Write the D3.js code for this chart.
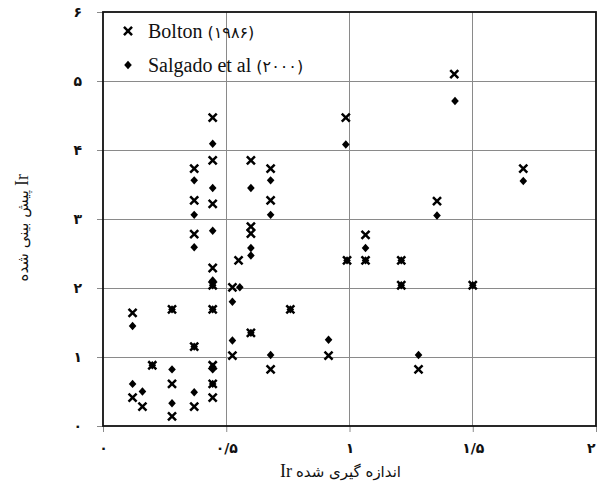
<!DOCTYPE html>
<html>
<head>
<meta charset="utf-8">
<script src="https://cdn.jsdelivr.net/npm/d3@7"></script>
<style>
  html, body { margin: 0; padding: 0; background: #fff; }
  svg { display: block; }
</style>
</head>
<body>
<script>
// Measured vs predicted Ir: Bolton (1986) and Salgado et al (2000)
const xTicks = [0, 0.5, 1, 1.5, 2];
const xTickLabels = ["۰", "۰/۵", "۱", "۱/۵", "۲"];
const yTicks = [0, 1, 2, 3, 4, 5, 6];
const yTickLabels = ["۰", "۱", "۲", "۳", "۴", "۵", "۶"];

const boltonX = [0.12, 0.12, 0.16, 0.20, 0.28, 0.28, 0.28,
  0.37, 0.37, 0.37, 0.37, 0.37,
  0.445, 0.445, 0.445, 0.445, 0.445, 0.445, 0.445, 0.445, 0.445,
  0.525, 0.525, 0.55,
  0.60, 0.60, 0.60, 0.60,
  0.68, 0.68, 0.68,
  0.76, 0.915,
  0.985, 0.99, 1.065, 1.065,
  1.21, 1.21, 1.28, 1.355, 1.425, 1.50, 1.705];
const boltonY = [1.64, 0.41, 0.28, 0.88, 1.69, 0.61, 0.14,
  3.73, 3.27, 2.78, 1.15, 0.28,
  4.47, 3.85, 3.22, 2.29, 2.04, 1.69, 0.88, 0.61, 0.41,
  2.01, 1.02, 2.40,
  3.85, 2.89, 2.79, 1.35,
  3.73, 3.27, 0.82,
  1.69, 1.02,
  4.47, 2.40, 2.77, 2.40,
  2.40, 2.04, 0.82, 3.26, 5.10, 2.04, 3.73];

const salgadoX = [0.12, 0.12, 0.16, 0.20, 0.28, 0.28, 0.28,
  0.37, 0.37, 0.37, 0.37, 0.37,
  0.445, 0.445, 0.445, 0.445, 0.445, 0.445, 0.445, 0.445, 0.445,
  0.525, 0.525, 0.555,
  0.60, 0.60, 0.60, 0.60,
  0.68, 0.68, 0.68,
  0.76, 0.915,
  0.985, 0.99, 1.065, 1.065,
  1.21, 1.21, 1.28, 1.355, 1.428, 1.50, 1.705];
const salgadoY = [1.45, 0.61, 0.50, 0.88, 1.69, 0.82, 0.33,
  3.56, 3.06, 2.59, 1.15, 0.49,
  4.09, 3.45, 2.83, 2.11, 2.04, 1.69, 0.86, 0.82, 0.61,
  1.80, 1.24, 2.01,
  3.45, 2.58, 2.47, 1.35,
  3.56, 3.06, 1.03,
  1.69, 1.25,
  4.08, 2.40, 2.58, 2.40,
  2.40, 2.04, 1.03, 3.05, 4.71, 2.04, 3.55];

const seriesNames = ["Bolton", "Salgado et al"];
const seriesYears = ["(۱۹۸۶)", "(۲۰۰۰)"];
const varName = "Ir";
const xTitleFa = "اندازه گیری شده";
const yTitleFa = "پیش بینی شده";

const W = 597, H = 490;
const svg = d3.select("body").append("svg").attr("width", W).attr("height", H);

const x = d3.scaleLinear().domain([0, 2]).range([103, 596]);
const y = d3.scaleLinear().domain([0, 6]).range([426, 12]);

const gridColor = "#8a8a8a";
const persianFont = "'DejaVu Sans', sans-serif";
const latinFont = "'Liberation Serif', 'Times New Roman', serif";

// grid
svg.append("g").selectAll("line").data(xTicks.slice(1, -1)).join("line")
  .attr("x1", d => x(d)).attr("x2", d => x(d))
  .attr("y1", y(6)).attr("y2", y(0))
  .attr("stroke", gridColor).attr("stroke-width", 1).attr("shape-rendering", "crispEdges");
svg.append("g").selectAll("line").data(yTicks.slice(1, -1)).join("line")
  .attr("x1", x(0)).attr("x2", x(2))
  .attr("y1", d => y(d)).attr("y2", d => y(d))
  .attr("stroke", gridColor).attr("stroke-width", 1).attr("shape-rendering", "crispEdges");

// axes
const yAxis = d3.axisLeft(y).tickValues(yTicks)
  .tickFormat((d, i) => yTickLabels[i]).tickSize(6).tickSizeOuter(0).tickPadding(15);
const gy = svg.append("g").attr("transform", `translate(${x(0)},0)`).call(yAxis);
gy.select(".domain").remove();
gy.selectAll(".tick line").attr("stroke", gridColor);
gy.selectAll(".tick text").attr("font-family", persianFont).attr("font-size", 14)
  .attr("font-weight", "bold").attr("fill", "#111");

const xAxis = d3.axisBottom(x).tickValues(xTicks)
  .tickFormat((d, i) => xTickLabels[i]).tickSize(6).tickSizeOuter(0).tickPadding(11);
const gx = svg.append("g").attr("transform", `translate(0,${y(0)})`).call(xAxis);
gx.select(".domain").remove();
gx.selectAll(".tick line").attr("stroke", gridColor);
gx.selectAll(".tick text").attr("font-family", persianFont).attr("font-size", 14)
  .attr("font-weight", "bold").attr("fill", "#111");
// keep the last label inside the page edge
gx.selectAll(".tick text").filter(d => d === 2).attr("text-anchor", "end").attr("dx", -1);

// frame
svg.append("rect")
  .attr("x", x(0)).attr("y", y(6))
  .attr("width", x(2) - x(0)).attr("height", y(0) - y(6))
  .attr("fill", "none").attr("stroke", "#111").attr("stroke-width", 1.8);

// marker shapes
const diamond = {
  draw(ctx, size) {
    const w = 3.8, h = 4.2;
    ctx.moveTo(0, -h); ctx.lineTo(w, 0); ctx.lineTo(0, h); ctx.lineTo(-w, 0); ctx.closePath();
  }
};
const crossPath = d3.symbol(d3.symbolX).size(44)();
const diamondPath = d3.symbol(diamond).size(1)();

const bolton = boltonX.map((v, i) => ({ x: v, y: boltonY[i] }));
const salgado = salgadoX.map((v, i) => ({ x: v, y: salgadoY[i] }));

svg.append("g").selectAll("path").data(salgado).join("path")
  .attr("d", diamondPath)
  .attr("transform", d => `translate(${x(d.x)},${y(d.y)})`)
  .attr("fill", "#000");

svg.append("g").selectAll("path").data(bolton).join("path")
  .attr("d", crossPath)
  .attr("transform", d => `translate(${x(d.x)},${y(d.y)})`)
  .attr("fill", "none").attr("stroke", "#000").attr("stroke-width", 2.5);

// legend
const legend = svg.append("g");
const legendRows = [
  { name: seriesNames[0], year: seriesYears[0], shape: crossPath, cy: 31 },
  { name: seriesNames[1], year: seriesYears[1], shape: diamondPath, cy: 65 }
];
legendRows.forEach((r, i) => {
  const m = legend.append("path").attr("d", r.shape)
    .attr("transform", `translate(128,${r.cy})`);
  if (i === 0) m.attr("fill", "none").attr("stroke", "#000").attr("stroke-width", 2.5);
  else m.attr("fill", "#000");
  const t = legend.append("text")
    .attr("x", 148).attr("y", r.cy + 7)
    .attr("font-family", latinFont).attr("font-size", 20).attr("fill", "#111");
  t.append("tspan").text(r.name + " ");
  t.append("tspan").attr("font-family", persianFont).attr("font-size", 16).text(r.year);
});

// axis titles: the Latin symbol and the Persian words are placed as separate runs
const xt = svg.append("g").attr("transform", "translate(296,477)");
xt.append("text").attr("x", -4).attr("text-anchor", "end")
  .attr("font-family", latinFont).attr("font-size", 18).attr("fill", "#111").text(varName);
xt.append("text").attr("x", 0).attr("text-anchor", "start")
  .attr("font-family", persianFont).attr("font-size", 15).attr("fill", "#111").text(xTitleFa);

const yt = svg.append("g").attr("transform", "translate(28,190) rotate(-90)");
yt.append("text").attr("x", 4).attr("text-anchor", "start")
  .attr("font-family", latinFont).attr("font-size", 18).attr("fill", "#111").text(varName);
yt.append("text").attr("x", 0).attr("text-anchor", "end")
  .attr("font-family", persianFont).attr("font-size", 15).attr("fill", "#111").text(yTitleFa);
</script>
</body>
</html>
